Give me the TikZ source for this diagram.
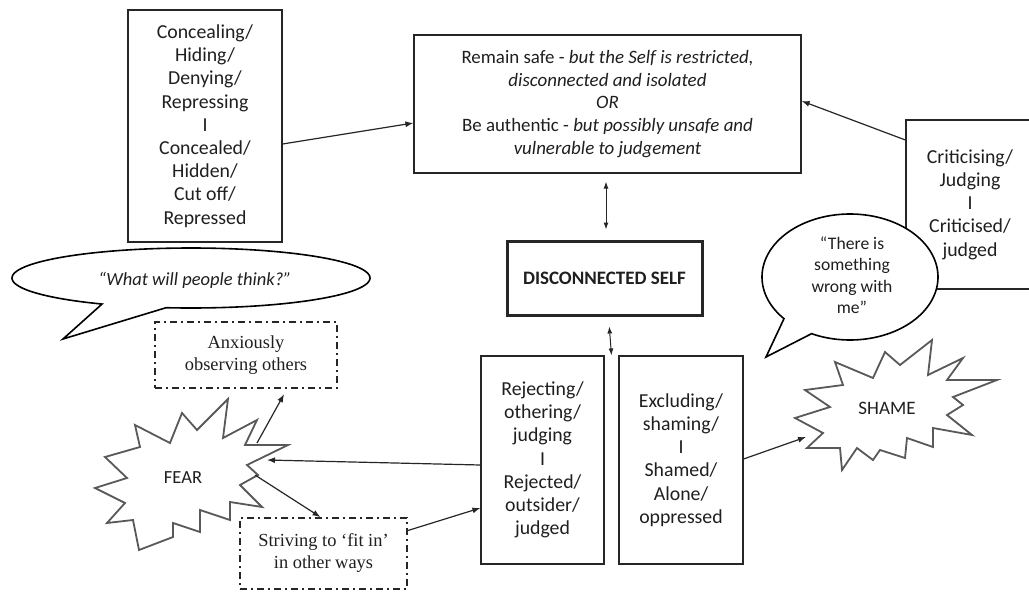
\documentclass[tikz,border=0pt]{standalone}
\usepackage{fontspec}
\setmainfont{Carlito}
\newfontfamily\timesf{Liberation Serif}
\usetikzlibrary{arrows.meta,calc}
\begin{document}
\begin{tikzpicture}[x=1pt,y=-1pt,
  txt/.style={text=black!88},
  box/.style={draw=black!85,line width=1.2pt,align=center,inner sep=0pt,txt,font=\fontsize{19.8}{23.2}\selectfont},
  dbox/.style={draw=black!85,line width=1.8pt,dash pattern=on 7pt off 4pt on 2pt off 4pt,align=center,inner sep=0pt,text=black!88,font=\timesf\fontsize{18.4}{22}\selectfont},
  arr/.style={draw=black!85,line width=1.2pt,-{Latex[length=8pt,width=6pt]}},
  darr/.style={draw=black!85,line width=1pt,{Latex[length=7pt,width=5pt]}-{Latex[length=7pt,width=5pt]}},
  star/.style={draw=black!65,line width=1.8pt,fill=white,line join=miter},
  bubble/.style={draw=black,line width=1.6pt,fill=white,line join=miter},
  lbl/.style={txt,inner sep=0pt,align=center},
]
\clip (0,0) rectangle (1029,592);
\fill[white] (0,0) rectangle (1029,592);

% boxes
\node[box,minimum width=154pt,minimum height=232pt] (conceal) at (205,126)
  {Concealing/\\Hiding/\\Denying/\\Repressing\\I\\Concealed/\\Hidden/\\Cut off/\\Repressed};
\node[box,minimum width=387pt,minimum height=138pt,font=\fontsize{18.9}{22.6}\selectfont] (top) at (607.5,104)
  {Remain safe - \textit{but the Self is restricted,}\\\textit{disconnected and isolated}\\\textit{OR}\\Be authentic - \textit{but possibly unsafe and}\\\textit{vulnerable to judgement}};
\node[box,minimum width=128pt,minimum height=169pt] (crit) at (970,204.5)
  {Criticising/\\Judging\\I\\Criticised/\\judged};
\node[box,line width=3pt,minimum width=195pt,minimum height=74pt,font=\bfseries\fontsize{19}{22}\selectfont] (ds) at (604.5,278)
  {DISCONNECTED SELF};
\node[box,minimum width=123pt,minimum height=208pt] (rej) at (542.5,460)
  {Rejecting/\\othering/\\judging\\I\\Rejected/\\outsider/\\judged};
\node[box,minimum width=124pt,minimum height=208pt] (exc) at (681,460)
  {Excluding/\\shaming/\\I\\Shamed/\\Alone/\\oppressed};
\node[dbox,minimum width=182pt,minimum height=66pt] (anx) at (246,355)
  {Anxiously\\observing others};
\node[dbox,minimum width=167pt,minimum height=71pt] (striv) at (323.5,553.5)
  {Striving to ‘fit in’\\in other ways};

% speech bubbles
\draw[bubble] plot[domain=-240.2:98,samples=160] ({191+179*cos(\x)},{278+30*sin(\x)}) -- (63,339) -- cycle;
\node[lbl,font=\itshape\fontsize{18.5}{20}\selectfont] (q1) at (195,280) {“What will people think?”};
\draw[bubble] plot[domain=-221.4:115.9,samples=160] ({850+88*cos(\x)},{277+63*sin(\x)}) -- (766,357) -- cycle;
\node[lbl,font=\fontsize{17.6}{21.5}\selectfont] (q2) at (852,275) {“There is\\something\\wrong with\\me”};

% stars
\draw[star] (262,507) -- (230,502) -- (230,520) -- (200,510) -- (200,532) -- (173,523) -- (173,537) -- (139,550) -- (133,520) -- (107,523) -- (125,503) -- (95,488) -- (127,478) -- (105,457) -- (140,447) -- (135,425) -- (170,443) -- (182,413) -- (197,430) -- (228,399) -- (223,438) -- (257,420) -- (245,445) -- (288,445) -- (247,465) -- (258,475) -- (240,485) -- cycle;
\node[lbl,font=\fontsize{18.5}{20}\selectfont] (fear) at (183,478) {FEAR};
\draw[star] (932,340) -- (928,375) -- (963,358) -- (947,380) -- (997,380) -- (953,397) -- (963,405) -- (947,415) -- (972,435) -- (933,428) -- (933,447) -- (907,438) -- (905,458) -- (880,450) -- (873,460) -- (857,448) -- (842,470) -- (840,448) -- (807,448) -- (823,433) -- (795,418) -- (830,407) -- (805,390) -- (843,385) -- (835,362) -- (873,378) -- (885,352) -- (900,365) -- cycle;
\node[lbl,font=\fontsize{19}{20}\selectfont] (shame) at (887,408) {SHAME};

% connector end points on the stars
\coordinate (fearR) at (267,460);
\coordinate (fearA) at (257,443);
\coordinate (fearS) at (255,475);
\coordinate (shameL) at (806,437);
\coordinate (gapTop) at ($(rej.north east)!0.5!(exc.north west)$);

% connectors
\draw[arr] ([yshift=-18pt]conceal.east) -- ([yshift=-19pt]top.west);
\draw[arr] ([yshift=64.5pt]crit.west) -- ([yshift=3pt]top.east);
\draw[darr,shorten <=8pt,shorten >=10pt] ([xshift=-1.5pt]top.south) -- ([xshift=1.5pt]ds.north);
\draw[darr,shorten <=10pt] ([xshift=4pt]ds.south) -- (gapTop);
\draw[arr] ([yshift=-5pt]rej.west) -- (fearR);
\draw[arr] ([yshift=23pt]striv.east) -- ([yshift=-48pt]rej.west);
\draw[arr] (fearS) -- ([xshift=-3pt]striv.north);
\draw[arr,shorten >=6pt] (fearA) -- ([xshift=41pt]anx.south);
\draw[arr] ([yshift=1pt]exc.east) -- (shameL);
\end{tikzpicture}
\end{document}
